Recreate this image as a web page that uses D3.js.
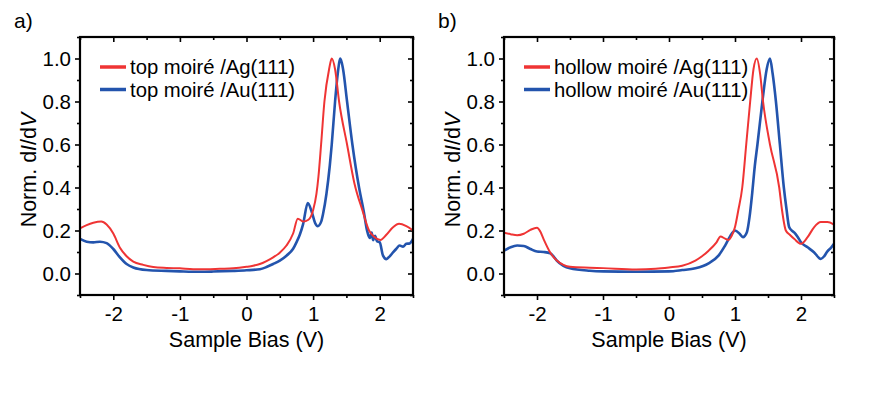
<!DOCTYPE html>
<html>
<head>
<meta charset="utf-8">
<script src="https://cdn.jsdelivr.net/npm/d3@7"></script>
<style>
  body { margin: 0; background: #fff; }
  svg { font-family: "Liberation Sans", Arial, sans-serif; }
</style>
</head>
<body>
<svg width="872" height="394"></svg>
<script>
// Panel a) top moiré
const topAgV = [-2.5, -2.4, -2.3, -2.18, -2.1, -2.0, -1.9, -1.8, -1.7, -1.55, -1.4, -1.2, -1.0, -0.8, -0.6, -0.4, -0.2, 0, 0.1, 0.2, 0.3, 0.4, 0.5, 0.6, 0.7, 0.77, 0.85, 0.93, 1.0, 1.05, 1.08, 1.12, 1.17, 1.24, 1.28, 1.33, 1.39, 1.51, 1.62, 1.74, 1.84, 1.92, 2.01, 2.1, 2.2, 2.29, 2.4, 2.5];
const topAg  = [0.21, 0.225, 0.236, 0.242, 0.228, 0.186, 0.12, 0.08, 0.055, 0.04, 0.03, 0.026, 0.024, 0.02, 0.02, 0.022, 0.024, 0.031, 0.036, 0.044, 0.058, 0.075, 0.097, 0.13, 0.186, 0.255, 0.242, 0.25, 0.294, 0.37, 0.45, 0.6, 0.8, 0.95, 1.0, 0.95, 0.8, 0.6, 0.42, 0.294, 0.2, 0.17, 0.156, 0.18, 0.215, 0.231, 0.22, 0.2];

const topAuV = [-2.5, -2.4, -2.3, -2.2, -2.1, -2.0, -1.9, -1.8, -1.7, -1.5, -1.2, -1.0, -0.7, -0.5, -0.2, 0, 0.2, 0.3, 0.4, 0.5, 0.6, 0.7, 0.75, 0.8, 0.85, 0.92, 0.98, 1.03, 1.07, 1.12, 1.15, 1.2, 1.25, 1.28, 1.33, 1.37, 1.41, 1.45, 1.51, 1.59, 1.69, 1.76, 1.81, 1.85, 1.88, 1.9, 1.93, 1.96, 2.0, 2.05, 2.1, 2.15, 2.2, 2.25, 2.3, 2.35, 2.4, 2.45, 2.5];
const topAu  = [0.161, 0.148, 0.145, 0.148, 0.141, 0.114, 0.075, 0.044, 0.028, 0.016, 0.012, 0.01, 0.008, 0.009, 0.012, 0.015, 0.02, 0.03, 0.044, 0.06, 0.083, 0.115, 0.145, 0.18, 0.23, 0.328, 0.286, 0.235, 0.22, 0.24, 0.278, 0.37, 0.5, 0.6, 0.8, 0.93, 1.0, 0.95, 0.8, 0.6, 0.4, 0.29, 0.2, 0.165, 0.19, 0.155, 0.175, 0.15, 0.145, 0.083, 0.067, 0.08, 0.098, 0.115, 0.13, 0.125, 0.138, 0.14, 0.161];

// Panel b) hollow moiré
const hollowAgV = [-2.5, -2.4, -2.3, -2.2, -2.1, -2.0, -1.95, -1.9, -1.8, -1.7, -1.6, -1.5, -1.2, -1.0, -0.5, -0.2, 0, 0.2, 0.4, 0.5, 0.6, 0.72, 0.78, 0.85, 0.9, 0.95, 1.0, 1.05, 1.11, 1.17, 1.23, 1.28, 1.33, 1.38, 1.425, 1.53, 1.67, 1.71, 1.77, 1.83, 1.9, 2.0, 2.1, 2.2, 2.3, 2.4, 2.5];
const hollowAg  = [0.19, 0.183, 0.178, 0.185, 0.203, 0.213, 0.195, 0.16, 0.098, 0.06, 0.04, 0.031, 0.027, 0.025, 0.019, 0.022, 0.028, 0.036, 0.06, 0.08, 0.106, 0.145, 0.172, 0.162, 0.156, 0.175, 0.216, 0.294, 0.4, 0.6, 0.8, 0.95, 1.0, 0.93, 0.8, 0.6, 0.4, 0.3, 0.2, 0.18, 0.16, 0.138, 0.169, 0.216, 0.239, 0.239, 0.227];

const hollowAuV = [-2.5, -2.4, -2.3, -2.2, -2.1, -2.0, -1.9, -1.8, -1.75, -1.7, -1.6, -1.5, -1.2, -1.0, -0.5, 0, 0.2, 0.4, 0.6, 0.75, 0.85, 0.95, 1.0, 1.07, 1.12, 1.18, 1.22, 1.26, 1.3, 1.34, 1.415, 1.48, 1.53, 1.57, 1.62, 1.68, 1.74, 1.78, 1.82, 1.86, 1.9, 1.95, 2.0, 2.1, 2.2, 2.3, 2.35, 2.4, 2.45, 2.5];
const hollowAu  = [0.106, 0.122, 0.13, 0.128, 0.114, 0.102, 0.1, 0.094, 0.08, 0.06, 0.036, 0.024, 0.013, 0.01, 0.008, 0.01, 0.016, 0.024, 0.047, 0.083, 0.13, 0.185, 0.2, 0.185, 0.169, 0.192, 0.262, 0.372, 0.5, 0.6, 0.8, 0.95, 1.0, 0.93, 0.8, 0.6, 0.4, 0.3, 0.216, 0.2, 0.19, 0.17, 0.145, 0.122, 0.098, 0.068, 0.08, 0.103, 0.118, 0.138];

const xTicks = [-2, -1, 0, 1, 2];
const yTicks = [0.0, 0.2, 0.4, 0.6, 0.8, 1.0];

const RED = "#ef3434", BLUE = "#2354ad";

const panels = [
  { tag: "a)", left: 80, right: 413, top: 37, bottom: 295,
    series: [
      { name: "top moiré /Ag(111)", v: topAgV, y: topAg, color: RED, w: 2 },
      { name: "top moiré /Au(111)", v: topAuV, y: topAu, color: BLUE, w: 2.6 }
    ] },
  { tag: "b)", left: 504, right: 834, top: 37, bottom: 295,
    series: [
      { name: "hollow moiré /Ag(111)", v: hollowAgV, y: hollowAg, color: RED, w: 2 },
      { name: "hollow moiré /Au(111)", v: hollowAuV, y: hollowAu, color: BLUE, w: 2.6 }
    ] }
];

const svg = d3.select("svg");
svg.append("rect").attr("width", 872).attr("height", 394).attr("fill", "#fff");

panels.forEach(p => {
  const x = d3.scaleLinear().domain([-2.5, 2.5]).range([p.left, p.right]);
  const y = d3.scaleLinear().domain([-0.1, 1.1]).range([p.bottom, p.top]);
  const g = svg.append("g");

  const xMinor = d3.range(-2.5, 2.51, 0.5).filter(v => Math.abs(v % 1) > 0.1);
  const yMinor = d3.range(-0.1, 1.11, 0.2).map(v => +v.toFixed(1));

  // minor ticks
  g.append("g").attr("transform", `translate(0,${p.bottom})`)
    .call(d3.axisBottom(x).tickValues(xMinor).tickSize(3).tickSizeOuter(0).tickFormat(""));
  g.append("g").attr("transform", `translate(0,${p.top})`)
    .call(d3.axisBottom(x).tickValues(xMinor).tickSize(3).tickSizeOuter(0).tickFormat(""));
  g.append("g").attr("transform", `translate(${p.left},0)`)
    .call(d3.axisLeft(y).tickValues(yMinor).tickSize(3).tickSizeOuter(0).tickFormat(""));
  g.append("g").attr("transform", `translate(${p.right},0)`)
    .call(d3.axisLeft(y).tickValues(yMinor).tickSize(3).tickSizeOuter(0).tickFormat(""));

  // major ticks
  g.append("g").attr("class", "xax").attr("transform", `translate(0,${p.bottom})`)
    .call(d3.axisBottom(x).tickValues(xTicks).tickSize(5).tickSizeOuter(0).tickPadding(6)
      .tickFormat(d => d < 0 ? "-" + Math.abs(d) : d));
  g.append("g").attr("transform", `translate(0,${p.top})`)
    .call(d3.axisBottom(x).tickValues(xTicks).tickSize(5).tickSizeOuter(0).tickFormat(""));
  g.append("g").attr("class", "yax").attr("transform", `translate(${p.left},0)`)
    .call(d3.axisLeft(y).tickValues(yTicks).tickSize(5).tickSizeOuter(0).tickPadding(4).tickFormat(d3.format(".1f")));
  g.append("g").attr("transform", `translate(${p.right},0)`)
    .call(d3.axisLeft(y).tickValues(yTicks).tickSize(5).tickSizeOuter(0).tickFormat(""));

  g.selectAll(".domain").remove();
  g.selectAll(".tick line").attr("stroke", "#000").attr("stroke-width", 1.6);
  g.selectAll(".tick text").attr("fill", "#000").style("font-size", "20.5px")
    .style("font-family", "'Liberation Sans', Arial, sans-serif");

  // curves
  const clipId = "clip" + p.tag[0];
  svg.append("clipPath").attr("id", clipId).append("rect")
    .attr("x", p.left).attr("y", p.top).attr("width", p.right - p.left).attr("height", p.bottom - p.top);
  const line = d3.line().x(d => x(d[0])).y(d => y(d[1])).curve(d3.curveMonotoneX);
  p.series.slice().reverse().forEach(s => {
    g.append("path")
      .datum(s.v.map((v, i) => [v, s.y[i]]))
      .attr("clip-path", `url(#${clipId})`)
      .attr("fill", "none").attr("stroke", s.color).attr("stroke-width", s.w)
      .attr("stroke-linejoin", "round")
      .attr("d", line);
  });

  // frame
  g.append("rect").attr("x", p.left).attr("y", p.top)
    .attr("width", p.right - p.left).attr("height", p.bottom - p.top)
    .attr("fill", "none").attr("stroke", "#000").attr("stroke-width", 2.2);

  // legend
  p.series.forEach((s, i) => {
    const ly = 67 + i * 22.5;
    g.append("line").attr("x1", p.left + 20).attr("x2", p.left + 46)
      .attr("y1", ly).attr("y2", ly).attr("stroke", s.color).attr("stroke-width", 3.5);
    g.append("text").attr("x", p.left + 50).attr("y", ly + 7)
      .style("font-size", "20.3px").text(s.name);
  });

  // axis titles
  g.append("text").attr("x", (p.left + p.right) / 2).attr("y", 347)
    .attr("text-anchor", "middle").style("font-size", "21.5px").text("Sample Bias (V)");
  const yt = g.append("text").attr("transform", `translate(${p.left - 44},${(p.top + p.bottom) / 2 + 4}) rotate(-90)`)
    .attr("text-anchor", "middle").style("font-size", "21.5px");
  yt.append("tspan").text("Norm. d");
  yt.append("tspan").style("font-style", "italic").text("I");
  yt.append("tspan").text("/d");
  yt.append("tspan").style("font-style", "italic").text("V");

  // panel tag
  g.append("text").attr("x", p.left - 66).attr("y", 28).style("font-size", "21px").text(p.tag);
});
</script>
</body>
</html>
